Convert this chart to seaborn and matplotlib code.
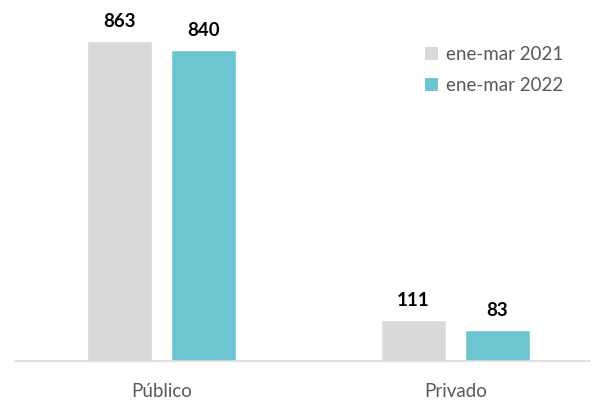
import matplotlib
matplotlib.use("Agg")
import matplotlib.pyplot as plt
import seaborn as sns
import pandas as pd
from matplotlib.patches import Patch

sectores = ["Público", "Privado"]
periodos = ["ene-mar 2021", "ene-mar 2022"]
valores_2021 = [863, 111]
valores_2022 = [840, 83]
colores = ["#D9D9D9", "#6CC5D1"]

df = pd.DataFrame({
    "sector": sectores * 2,
    "periodo": [periodos[0]] * 2 + [periodos[1]] * 2,
    "valor": valores_2021 + valores_2022,
})

sns.set_style("white")
plt.rcParams["font.family"] = ["Lato", "DejaVu Sans"]

fig = plt.figure(figsize=(6, 4), dpi=100)
ax = fig.add_axes([0.025, 0.0975, 0.958, 0.88])

sns.barplot(data=df, x="sector", y="valor", hue="periodo", order=sectores,
            hue_order=periodos, palette=colores, width=0.571, gap=0.226,
            ax=ax, legend=False, saturation=1)

for cont in ax.containers:
    ax.bar_label(cont, fontsize=13.5, fontweight="bold", color="black", padding=8)

ax.set_xlim(-0.498, 1.457)
ax.set_ylim(0, 950)
ax.set_xlabel("")
ax.set_ylabel("")
ax.set_yticks([])
ax.tick_params(axis="x", length=0, labelsize=13.5, labelcolor="#595959", pad=16)
for s in ["top", "right", "left"]:
    ax.spines[s].set_visible(False)
ax.spines["bottom"].set_color("#D9D9D9")
ax.spines["bottom"].set_linewidth(1.2)

handles = [Patch(facecolor=c, edgecolor="none") for c in colores]
fig.legend(handles, periodos, loc="upper left", bbox_to_anchor=(0.68, 0.928),
           frameon=False, fontsize=13.5, labelcolor="#595959",
           handlelength=0.7, handleheight=0.7, handletextpad=0.4,
           labelspacing=0.75)

fig.savefig("out.png", dpi=100)
